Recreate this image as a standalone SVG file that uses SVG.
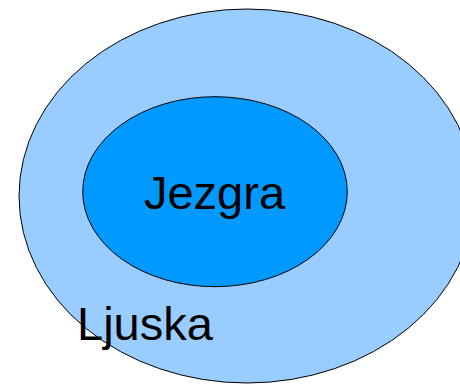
<svg xmlns="http://www.w3.org/2000/svg" width="460" height="385" viewBox="0 0 460 385">
  <style>
    .shape { stroke: #000000; stroke-width: 1; }
    .label { font-family: "Liberation Sans", Arial, sans-serif; font-size: 47px; fill: #000000; }
  </style>
  <rect width="460" height="385" fill="#ffffff"/>
  <g id="ljuska">
    <ellipse class="shape" cx="247" cy="196" rx="228" ry="187" fill="#99ccff"/>
    <text class="label" x="77" y="340">Ljuska</text>
  </g>
  <g id="jezgra">
    <ellipse class="shape" cx="215" cy="191.7" rx="132.3" ry="95" fill="#0099ff"/>
    <text class="label" x="214.5" y="209" text-anchor="middle">Jezgra</text>
  </g>
  <g id="connectors"/>
</svg>
